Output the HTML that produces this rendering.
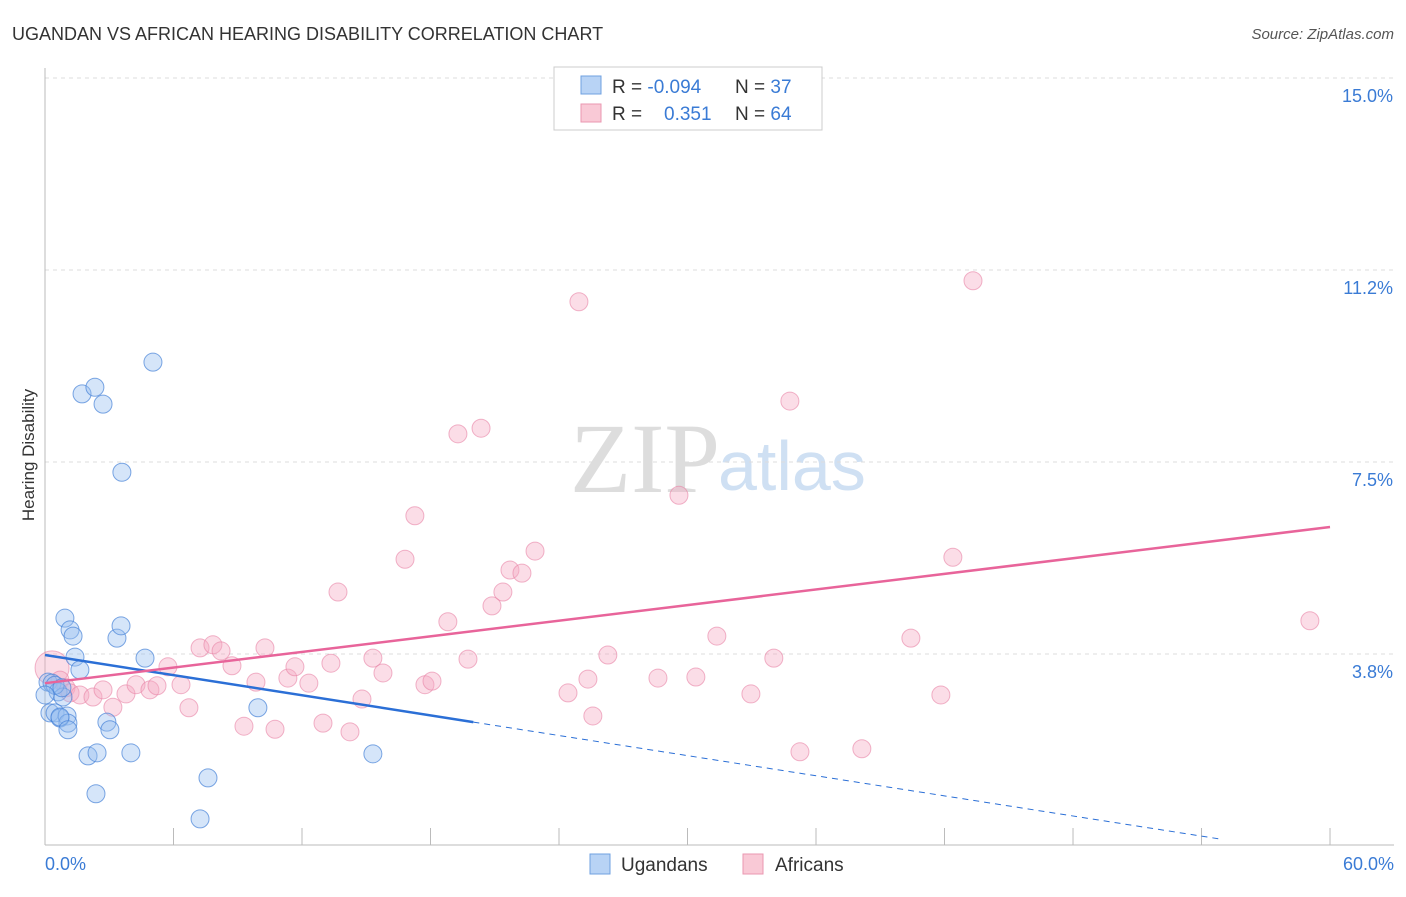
<!DOCTYPE html>
<html><head><meta charset="utf-8"><style>
body{margin:0;background:#fff;font-family:"Liberation Sans",sans-serif;}
</style></head><body>
<svg id="c" width="1406" height="892" xmlns="http://www.w3.org/2000/svg">
<text x="12" y="40" font-size="18" fill="#333">UGANDAN VS AFRICAN HEARING DISABILITY CORRELATION CHART</text>
<text x="1394" y="39" font-size="15" fill="#555" font-style="italic" text-anchor="end">Source: ZipAtlas.com</text>
<text x="720" y="492" font-size="100" fill="#ddd" text-anchor="end" font-family="Liberation Serif">ZIP</text>
<text x="718" y="490" font-size="70" fill="#cfe0f3">atlas</text>
<g id="grid"></g>
<line x1="45" y1="68" x2="45" y2="845" stroke="#bbb"/>
<line x1="45" y1="845" x2="1394" y2="845" stroke="#bbb"/>
<text x="34" y="455" font-size="17" fill="#333" transform="rotate(-90 34 455)" text-anchor="middle">Hearing Disability</text>
<text x="45" y="870" font-size="18" fill="#3a7bd5">0.0%</text>
<text x="1394" y="870" font-size="18" fill="#3a7bd5" text-anchor="end">60.0%</text>
<g id="pts"></g>
<g id="lines"></g>
<g>
<rect x="554" y="67" width="268" height="63" fill="#fff" stroke="#ccc"/>
<rect x="581" y="76" width="20" height="18" fill="#b8d3f5" stroke="#6fa0e0"/>
<rect x="581" y="104" width="20" height="18" fill="#f9c9d6" stroke="#ea97b0"/>
<text x="612" y="93" font-size="19" fill="#333">R = <tspan fill="#3a7bd5">-0.094</tspan>  <tspan x="735">N = </tspan><tspan fill="#3a7bd5">37</tspan></text>
<text x="612" y="120" font-size="19" fill="#333">R = <tspan fill="#3a7bd5" x="664">0.351</tspan><tspan x="735">N = </tspan><tspan fill="#3a7bd5">64</tspan></text>
</g>
<g>
<rect x="590" y="854" width="20" height="20" fill="#b8d3f5" stroke="#6fa0e0"/>
<text x="621" y="871" font-size="19" fill="#333">Ugandans</text>
<rect x="743" y="854" width="20" height="20" fill="#f9c9d6" stroke="#ea97b0"/>
<text x="775" y="871" font-size="19" fill="#333">Africans</text>
</g>
</svg>
<script>
const yTicks=[3.75,7.5,11.25,15];
const yTickLabels=["3.8%","7.5%","11.2%","15.0%"];
const xTicks=[0,6,12,18,24,30,36,42,48,54,60];
const blueX=[0.93,1.17,1.31,1.4,1.63,0.14,0.33,0.61,0.84,0.23,0.47,0.7,1.03,1.07,0.7,1.07,2.89,3.03,2.01,2.43,4.01,2.38,7.61,7.24,3.36,3.55,4.67,9.94,15.31,1.73,2.33,2.71,5.04,3.59,0.47,0.79,0];
const blueY=[4.45,4.22,4.1,3.69,3.44,3.2,3.18,3.01,2.91,2.6,2.6,2.5,2.54,2.4,2.52,2.27,2.42,2.27,1.76,1.82,1.82,1.02,1.33,0.53,4.06,4.3,3.67,2.7,1.8,8.83,8.96,8.63,9.45,7.3,3.14,3.09,2.95];
const pinkX=[0.33,0.7,0.98,1.17,1.63,2.24,2.71,3.17,3.78,4.25,4.9,5.23,5.74,6.35,6.72,7.24,7.84,8.22,8.73,9.29,9.85,10.27,10.74,11.34,11.67,12.32,12.98,13.35,13.68,14.24,14.8,15.31,15.78,16.81,17.27,17.74,18.07,18.81,19.28,19.75,20.36,20.87,21.38,21.71,22.27,22.88,24.42,24.93,25.35,25.58,26.28,28.62,29.6,30.39,31.37,32.96,34.03,34.78,35.25,38.14,40.43,41.83,42.39,43.33,59.06];
const pinkY=[3.48,3.24,3.09,2.99,2.95,2.91,3.05,2.71,2.97,3.15,3.05,3.13,3.5,3.15,2.7,3.87,3.93,3.81,3.52,2.34,3.2,3.87,2.28,3.28,3.5,3.18,2.4,3.57,4.96,2.23,2.87,3.67,3.38,5.6,6.45,3.15,3.22,4.38,8.05,3.65,8.16,4.69,4.96,5.39,5.33,5.76,2.99,10.63,3.26,2.54,3.73,3.28,6.85,3.3,4.1,2.97,3.67,8.69,1.84,1.9,4.06,2.95,5.64,11.04,4.4];
const blueTrend=[3.73,2.42];
const pinkTrend=[3.18,6.23];
const NS="http://www.w3.org/2000/svg";
const X=v=>45+v*21.417, Y=v=>846-v*51.2;
function mk(t,a,p){const e=document.createElementNS(NS,t);for(const k in a)e.setAttribute(k,a[k]);p.appendChild(e);return e;}
const grid=document.getElementById('grid');
yTicks.forEach((t,i)=>{
 const l=mk('line',{x1:45,x2:1394,y1:Y(t),y2:Y(t),stroke:'#ddd','stroke-dasharray':'4,4'},grid);
 
 
 const tx=mk('text',{x:1393,y:Y(t)+24,'font-size':18,fill:'#3a7bd5','text-anchor':'end'},grid);
 tx.textContent=yTickLabels[i];
 
 
});
xTicks.forEach(t=>{
 const l=mk('line',{x1:X(t),x2:X(t),y1:828,y2:845,stroke:'#bbb'},grid);
 
 
});
const pts=document.getElementById('pts');
pinkX.forEach((x,i)=>{
 const c=mk('circle',{cx:X(x),cy:Y(pinkY[i]),r:i==0?17:9,fill:'rgba(245,170,195,0.4)',stroke:'rgba(232,130,165,0.6)'},pts);
 
 
});
blueX.forEach((x,i)=>{
 const c=mk('circle',{cx:X(x),cy:Y(blueY[i]),r:9,fill:'rgba(150,190,240,0.4)',stroke:'rgba(70,130,215,0.7)'},pts);
 
 
});
const ln=document.getElementById('lines');
const bAt=x=>blueTrend[0]+(blueTrend[1]-blueTrend[0])*x/20;
let l1=mk('line',{x1:X(0),y1:Y(bAt(0)),x2:X(20),y2:Y(bAt(20)),stroke:'#2b6fd6','stroke-width':2.5},ln);


let l2=mk('line',{x1:X(20),y1:Y(bAt(20)),x2:X(55),y2:Y(bAt(55)),stroke:'#2b6fd6','stroke-width':1,'stroke-dasharray':'6,5'},ln);


let l3=mk('line',{x1:X(0),y1:Y(pinkTrend[0]),x2:X(60),y2:Y(pinkTrend[1]),stroke:'#e8649a','stroke-width':2.5},ln);


</script>
</body></html>
